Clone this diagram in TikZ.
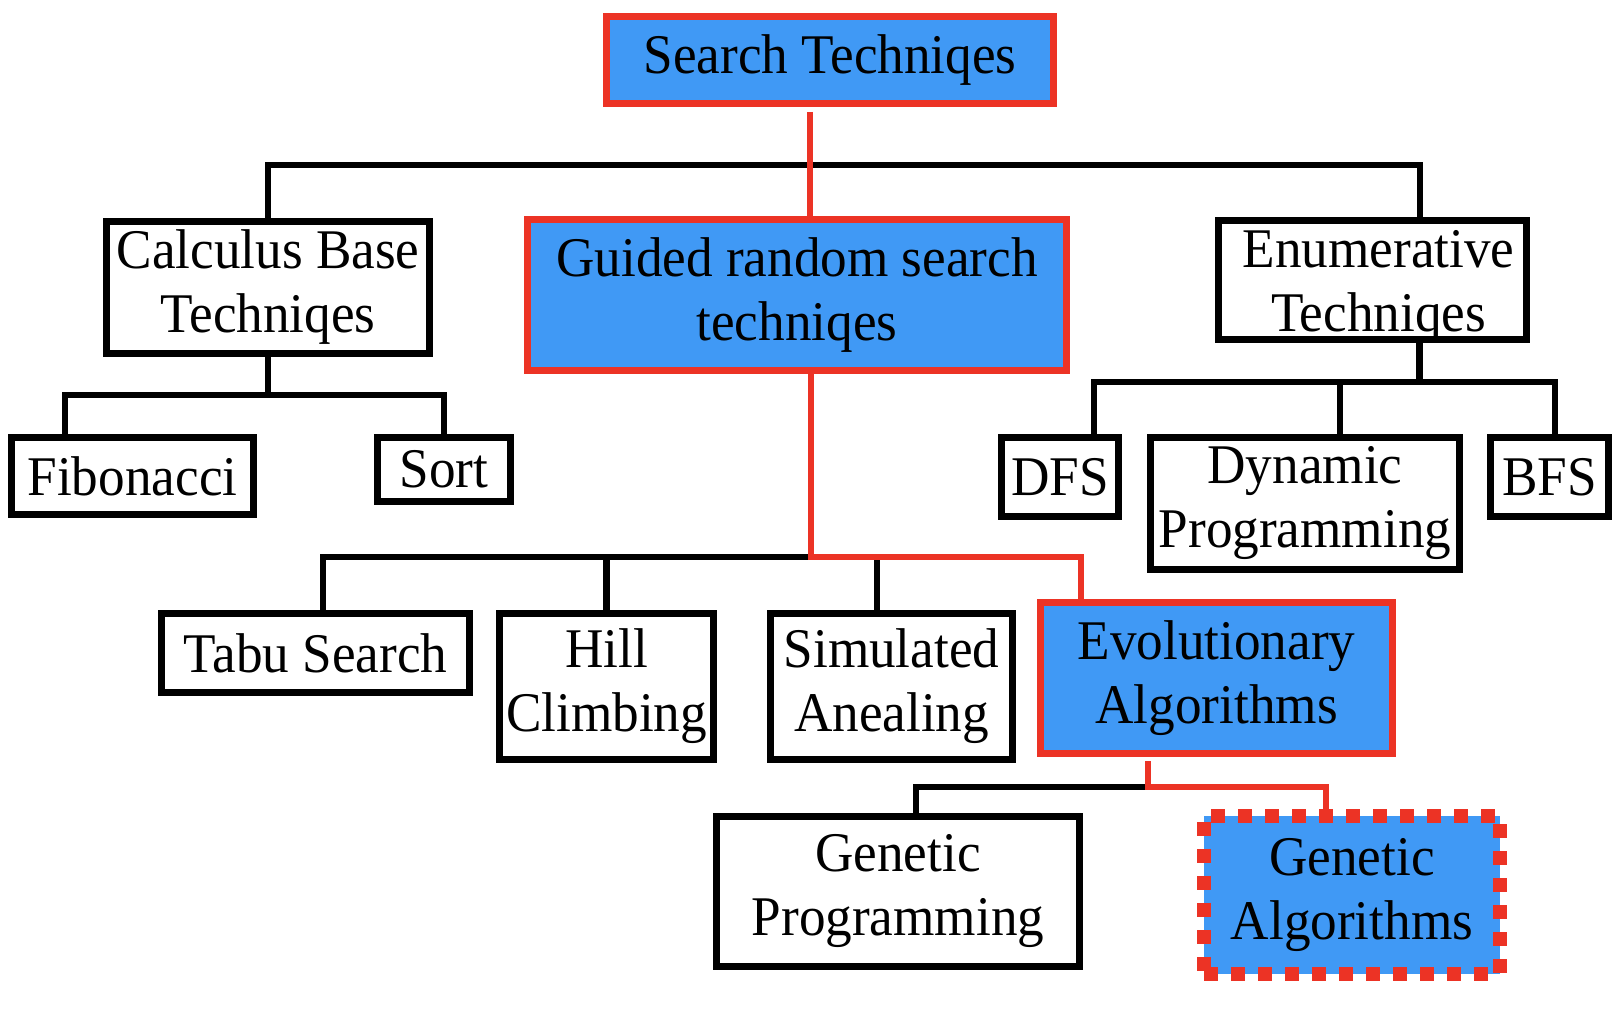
\documentclass[tikz,border=0pt]{standalone}
\usepackage{fontspec}
\setmainfont{Liberation Serif}[FakeStretch=0.95]
\usetikzlibrary{calc}
\definecolor{hlblue}{RGB}{64,153,245}
\definecolor{hlred}{RGB}{236,51,37}
\begin{document}
\begin{tikzpicture}[x=0.5pt,y=-0.5pt,
  box/.style={draw=black,line width=3.4pt,fill=white,inner sep=0pt,outer sep=0pt,align=center,
    font=\fontsize{28pt}{32pt}\selectfont},
  hlbox/.style={box,draw=hlred,fill=hlblue,line width=3.5pt},
  dotbox/.style={box,draw=hlred,fill=hlblue,line width=7pt,dash pattern=on 7pt off 6.5pt},
  link/.style={line width=3.4pt,draw=black},
  hllink/.style={line width=3.1pt,draw=hlred}]
\useasboundingbox (0,0) rectangle (1618,1020);

% nodes
\node[hlbox,minimum width=223.5pt,minimum height=43.5pt] (search) at (830,60) {Search Techniqes};
\node[box,minimum width=161.5pt,minimum height=66pt] (calc) at (268,287.5) {Calculus Base\\Techniqes};
\node[hlbox,minimum width=269.5pt,minimum height=75.5pt] (guided) at (797,295) {Guided random search\\techniqes};
\node[box,minimum width=154pt,minimum height=59.5pt] (enum) at (1372.5,280) {\raisebox{-3.5pt}[\height][\depth]{\parbox{150pt}{\centering\hspace*{6pt}Enumerative\\\hspace*{6pt}Techniqes}}};
\node[box,minimum width=121pt,minimum height=38.5pt] (fib) at (132.5,476) {Fibonacci};
\node[box,minimum width=66.5pt,minimum height=32pt] (sort) at (444,469.5) {Sort};
\node[box,minimum width=58.5pt,minimum height=39.5pt] (dfs) at (1060,477) {DFS};
\node[box,minimum width=154.5pt,minimum height=66pt] (dp) at (1305,503.5) {Dynamic\\Programming};
\node[box,minimum width=59pt,minimum height=39.5pt] (bfs) at (1549.5,477) {BFS};
\node[box,minimum width=154pt,minimum height=39.5pt] (tabu) at (315.5,653) {Tabu Search};
\node[box,minimum width=107pt,minimum height=73pt] (hill) at (606.5,686.5) {Hill\\Climbing};
\node[box,minimum width=121pt,minimum height=73pt] (sim) at (891.5,686.5) {Simulated\\Anealing};
\node[hlbox,minimum width=176pt,minimum height=75.5pt] (evo) at (1216.5,678) {Evolutionary\\Algorithms};
\node[box,minimum width=181.5pt,minimum height=75pt] (gp) at (898,891.5) {Genetic\\Programming};
\node[dotbox,minimum width=148pt,minimum height=79pt] (ga) at (1352,895) {Genetic\\Algorithms};

% junction coordinates
\coordinate (topbus) at (1420,165);
\coordinate (enumin) at ($(enum.north)+(47.5,0)$);
\coordinate (searchout) at (810,112);
\coordinate (cbus) at (0,395);
\coordinate (fibin) at ($(fib.north)+(-67.5,0)$);
\coordinate (ebus) at (0,382);
\coordinate (enumout) at ($(enum.south)+(47,0)$);
\coordinate (dfsin) at ($(dfs.north)+(34,0)$);
\coordinate (dpin) at ($(dp.north)+(35,0)$);
\coordinate (bfsin) at ($(bfs.north)+(5.5,0)$);
\coordinate (gbus) at (0,557);
\coordinate (guidout) at ($(guided.south)+(14,0)$);
\coordinate (tabuin) at ($(tabu.north)+(7.5,0)$);
\coordinate (simin) at ($(sim.north)+(-14.5,0)$);
\coordinate (evoin) at ($(evo.north)+(-135.5,0)$);
\coordinate (eabus) at (0,787);
\coordinate (evoout) at ($(evo.south)+(-68.5,8)$);
\coordinate (gpin) at ($(gp.north)+(18,0)$);
\coordinate (gain) at ($(ga.north)+(-26,0)$);

% black connectors
\draw[link] (calc.north) |- (topbus) -- (enumin);
\draw[link] (calc.south) -- (calc.south |- cbus);
\draw[link] (fibin) -- (fibin |- cbus) -- (sort.north |- cbus) -- (sort.north);
\draw[link] (enumout) -- (enumout |- ebus);
\draw[link] (dfsin) -- (dfsin |- ebus) -- (bfsin |- ebus) -- (bfsin);
\draw[link] (dpin |- ebus) -- (dpin);
\draw[link] (tabuin) -- (tabuin |- gbus) -- (simin |- gbus) -- (simin);
\draw[link] (hill.north |- gbus) -- (hill.north);
\draw[link] (evoout |- eabus) -- (gpin |- eabus) -- (gpin);

% red connectors
\draw[hllink] (searchout) -- (searchout |- guided.north);
\draw[hllink] (guidout) -- (guidout |- gbus) -- (evoin |- gbus) -- (evoin);
\draw[hllink] (evoout) -- (evoout |- eabus) -- (gain |- eabus) -- (gain);
\end{tikzpicture}
\end{document}
